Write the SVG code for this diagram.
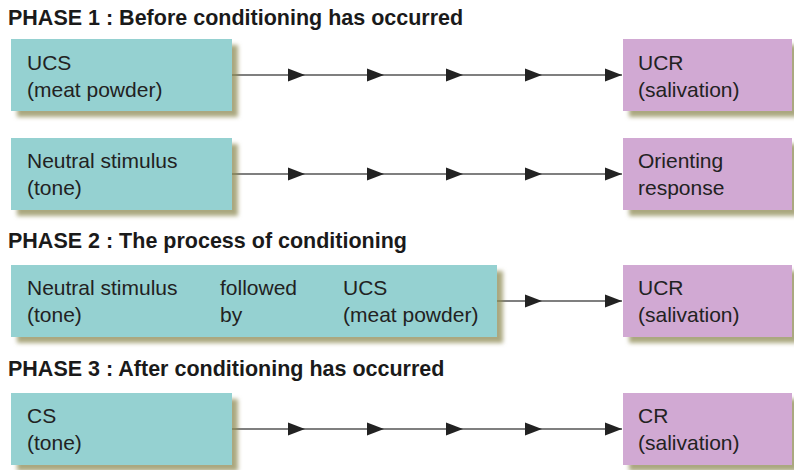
<svg xmlns="http://www.w3.org/2000/svg" width="794" height="470" viewBox="0 0 794 470">
<defs>
<style>
.title{font-family:"Liberation Sans",Arial,sans-serif;font-weight:bold;font-size:21.5px;fill:#1a1a1a}
.lbl{font-family:"Liberation Sans",Arial,sans-serif;font-size:21px;fill:#222}
.cs{fill:#95d1d1;filter:url(#sh)}
.cr{fill:#d1a9d3;filter:url(#sh)}
.conn{fill:none;stroke:#555;stroke-width:1.6;marker-mid:url(#ah);marker-end:url(#ah)}
</style>
<filter id="sh" x="-10%" y="-20%" width="130%" height="150%">
<feDropShadow dx="6" dy="6" stdDeviation="2" flood-color="#8f8a55" flood-opacity="0.75"/>
</filter>
<marker id="ah" markerUnits="userSpaceOnUse" markerWidth="17" markerHeight="13" refX="17" refY="6.5" orient="auto" overflow="visible">
<path d="M0,0 L17,6.5 L0,13 Z" fill="#222"/>
</marker>
</defs>
<rect width="794" height="470" fill="#fff"/>

<text class="title" x="8" y="25">PHASE 1 : Before conditioning has occurred</text>
<text class="title" x="8" y="248">PHASE 2 : The process of conditioning</text>
<text class="title" x="8" y="376">PHASE 3 : After conditioning has occurred</text>

<g id="connectors">
<polyline class="conn" points="232,75 305,75 384,75 463,75 542,75 622,75"/>
<polyline class="conn" points="232,174 305,174 384,174 463,174 542,174 622,174"/>
<polyline class="conn" points="497,301 542,301 622,301"/>
<polyline class="conn" points="232,429 305,429 384,429 463,429 542,429 622,429"/>
</g>

<g id="ucs1">
<rect class="cs" x="11" y="39" width="221" height="72"/>
<text class="lbl" x="27" y="70">UCS</text>
<text class="lbl" x="27" y="97">(meat powder)</text>
</g>
<g id="ucr1">
<rect class="cr" x="623" y="39" width="169" height="72"/>
<text class="lbl" x="638" y="70">UCR</text>
<text class="lbl" x="638" y="97">(salivation)</text>
</g>

<g id="ns1">
<rect class="cs" x="11" y="138" width="221" height="72"/>
<text class="lbl" x="27" y="168">Neutral stimulus</text>
<text class="lbl" x="27" y="195">(tone)</text>
</g>
<g id="or1">
<rect class="cr" x="623" y="138" width="169" height="72"/>
<text class="lbl" x="638" y="168">Orienting</text>
<text class="lbl" x="638" y="195">response</text>
</g>

<g id="pair2">
<rect class="cs" x="11" y="265" width="486" height="72"/>
<text class="lbl" x="27" y="295">Neutral stimulus</text>
<text class="lbl" x="27" y="322">(tone)</text>
<text class="lbl" x="220" y="295">followed</text>
<text class="lbl" x="220" y="322">by</text>
<text class="lbl" x="343" y="295">UCS</text>
<text class="lbl" x="343" y="322">(meat powder)</text>
</g>
<g id="ucr2">
<rect class="cr" x="623" y="265" width="169" height="72"/>
<text class="lbl" x="638" y="295">UCR</text>
<text class="lbl" x="638" y="322">(salivation)</text>
</g>

<g id="cs3">
<rect class="cs" x="11" y="393" width="221" height="72"/>
<text class="lbl" x="27" y="423">CS</text>
<text class="lbl" x="27" y="450">(tone)</text>
</g>
<g id="cr3">
<rect class="cr" x="623" y="393" width="169" height="72"/>
<text class="lbl" x="638" y="423">CR</text>
<text class="lbl" x="638" y="450">(salivation)</text>
</g>
</svg>
